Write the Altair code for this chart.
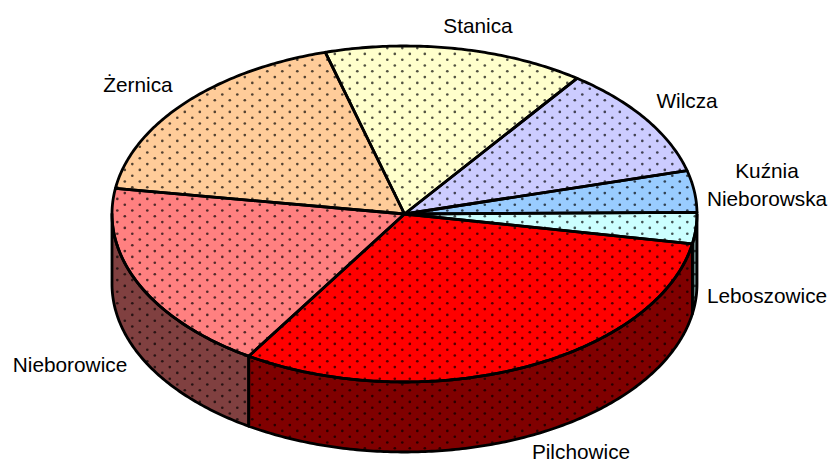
import math
import altair as alt
import pandas as pd

# ---- data ----
CATEGORIES = ["Stanica", "Wilcza", "Kuźnia\nNieborowska", "Leboszowice",
              "Pilchowice", "Nieborowice", "Żernica"]
SHARES = [14.4, 10.8, 4.0, 3.0, 31.1, 18.5, 18.2]
TOP_COLORS = ["#FFFFCC", "#CCCCFF", "#99CCFF", "#CCFFFF", "#FF0000", "#FF8080", "#FFCC99"]
WALL_COLORS = ["#808066", "#666680", "#4D6680", "#668080", "#800000", "#804040", "#80664D"]
LABEL_PIXELS = [(478, 27), (687, 102), (767, 172), (767, 297), (581, 453), (70, 366), (138, 86)]

# ---- geometry ----
W, H = 820, 454
CX, CY, RX, RY, DEPTH = 404.5, 214.0, 292.5, 168.0, 70.0
START = 105.7


def ux(px):
    return (px - CX) / RX


def uy(py):
    return (CY - py) / RY


D = DEPTH / RY
total = sum(SHARES)
rows = []
t = START
for name, share, top, wall in zip(CATEGORIES, SHARES, TOP_COLORS, WALL_COLORS):
    sweep = share / total * 360
    t0, t1 = t, t - sweep
    t = t1
    steps = max(4, int(sweep * 1.5))
    pts = [(0.0, 0.0)]
    for i in range(steps + 1):
        a = math.radians(t0 + (t1 - t0) * i / steps)
        pts.append((math.cos(a), math.sin(a)))
    pts.append((0.0, 0.0))
    for k, (x, y) in enumerate(pts):
        rows.append({"id": name + " top", "layer": 2, "fill": top, "o": k, "x": x, "y": y})
    # outer wall: the part of the slice on the front half of the disc
    lo = max(t1, -180.0) if t1 < 0 else None
    hi = min(t0, 0.0)
    if t1 < 0 and hi > lo:
        steps = max(2, int((hi - lo) * 1.5))
        arc = [math.radians(hi + (lo - hi) * i / steps) for i in range(steps + 1)]
        wpts = [(math.cos(a), math.sin(a)) for a in arc]
        wpts += [(math.cos(a), math.sin(a) - D) for a in reversed(arc)]
        wpts.append(wpts[0])
        for k, (x, y) in enumerate(wpts):
            rows.append({"id": name + " wall", "layer": 1, "fill": wall, "o": k, "x": x, "y": y})

df = pd.DataFrame(rows).sort_values(["layer", "id", "o"]).reset_index(drop=True)
fill_domain = list(dict.fromkeys(df["fill"]))

# ---- dotted texture of the fills ----
dots = []
DX, DY = 15.0, 5.8
row = 0
py = 303.3 - 50 * DY
while py < 460:
    px = 402.3 - 30 * DX + (DX / 2 if row % 2 else 0)
    while px < 700:
        x, y = ux(px), uy(py)
        if abs(x) < 0.995:
            low = -math.sqrt(1 - x * x)
            if low - D + 0.01 < y < -low - 0.01:
                dots.append({"x": x, "y": y})
        px += DX
    py += DY
    row += 1
dots = pd.DataFrame(dots)

labels = pd.DataFrame({"label": CATEGORIES,
                       "x": [ux(p[0]) for p in LABEL_PIXELS],
                       "y": [uy(p[1]) for p in LABEL_PIXELS]})

X = alt.X("x:Q", axis=None, scale=alt.Scale(domain=[ux(8), ux(8 + W)], nice=False, zero=False))
Y = alt.Y("y:Q", axis=None, scale=alt.Scale(domain=[uy(8 + H), uy(8)], nice=False, zero=False))

fills = alt.Chart(df).mark_line(strokeOpacity=0, interpolate="linear").encode(
    x=X, y=Y, order="o:Q", detail="id:N",
    fill=alt.Fill("fill:N", scale=alt.Scale(domain=fill_domain, range=fill_domain), legend=None),
)
texture = alt.Chart(dots).mark_point(filled=True, shape="circle", size=7, color="#000000", opacity=0.68).encode(x=X, y=Y)
outlines = alt.Chart(df).mark_line(color="#000000", strokeWidth=2.8, interpolate="linear", strokeJoin="round").encode(
    x=X, y=Y, order="o:Q", detail="id:N",
)
text = alt.Chart(labels).mark_text(font="Liberation Sans", fontSize=20.8, color="#000000",
                                   lineBreak="\n", lineHeight=27.5).encode(x=X, y=Y, text="label:N")

chart = alt.layer(fills, texture, outlines, text).properties(
    width=W, height=H, padding=0, autosize=alt.AutoSizeParams(type="none")
).configure_view(stroke=None)

chart.save("out.html", embed_options={"renderer": "svg", "actions": False})
